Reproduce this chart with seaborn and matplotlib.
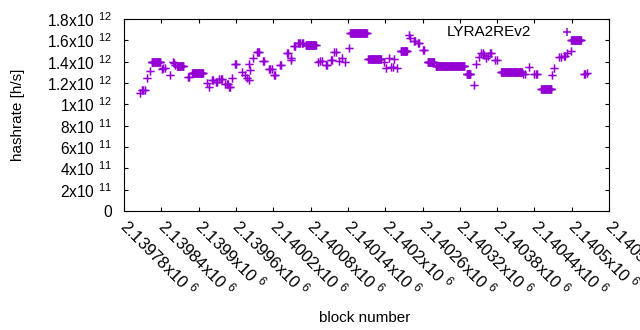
import matplotlib
matplotlib.use("Agg")
import matplotlib.pyplot as plt
import matplotlib.ticker as mticker
import seaborn as sns
import numpy as np
import pandas as pd

# block numbers and hashrate (units of 1e12 h/s)
blocks = [
    2139806, 2139809, 2139811, 2139813, 2139816, 2139822,
    2139824, 2139825, 2139826, 2139827, 2139828, 2139829, 2139830, 2139831,
    2139832, 2139833, 2139834, 2139835, 2139836, 2139837, 2139838,
    2139841, 2139843, 2139845, 2139854, 2139858, 2139860, 2139862,
    2139865, 2139866, 2139867, 2139868, 2139869, 2139870, 2139871, 2139872,
    2139873, 2139874, 2139875,
    2139882, 2139884,
    2139889, 2139890, 2139891, 2139892, 2139893, 2139894, 2139895, 2139896,
    2139897, 2139898, 2139899, 2139900, 2139901, 2139902, 2139903, 2139904,
    2139905, 2139906, 2139907,
    2139913, 2139917, 2139921, 2139923, 2139927, 2139929, 2139933, 2139935, 2139937,
    2139943, 2139945, 2139947, 2139949, 2139951, 2139954, 2139958, 2139960,
    2139970, 2139975, 2139978, 2139980, 2139981, 2139983, 2139988,
    2139993, 2139995, 2139997, 2140003, 2140005, 2140013, 2140015, 2140017,
    2140021, 2140023, 2140031, 2140033, 2140042, 2140044, 2140048, 2140049,
    2140053, 2140055, 2140059, 2140061, 2140063, 2140066, 2140068,
    2140072, 2140073, 2140074, 2140075, 2140076, 2140077, 2140078, 2140079,
    2140080, 2140081, 2140082, 2140083, 2140084, 2140085, 2140086, 2140087,
    2140088,
    2140091, 2140095, 2140098, 2140105, 2140107, 2140112, 2140114, 2140118, 2140120,
    2140125, 2140131, 2140136, 2140142,
    2140144, 2140145, 2140146, 2140147, 2140148, 2140149, 2140150, 2140151,
    2140152, 2140153, 2140154, 2140155, 2140156, 2140157, 2140158, 2140159,
    2140160, 2140161, 2140162, 2140163, 2140164, 2140165, 2140166, 2140167,
    2140168, 2140169, 2140170,
    2140173, 2140174, 2140175, 2140176, 2140177, 2140178, 2140179, 2140180,
    2140181, 2140182, 2140183, 2140184, 2140185, 2140186, 2140187, 2140188,
    2140189, 2140190, 2140191, 2140192, 2140193,
    2140198, 2140201, 2140206, 2140209, 2140212, 2140214, 2140219,
    2140225, 2140226, 2140227, 2140228, 2140229, 2140230, 2140231, 2140232,
    2140233, 2140234, 2140235,
    2140238, 2140239, 2140246, 2140248, 2140252, 2140254, 2140260, 2140262,
    2140268, 2140269, 2140270, 2140271, 2140272, 2140273, 2140274, 2140275,
    2140276, 2140277, 2140278,
    2140281, 2140282, 2140283, 2140284, 2140285, 2140286, 2140287, 2140288,
    2140289, 2140290, 2140291, 2140292, 2140293, 2140294, 2140295, 2140296,
    2140297, 2140298, 2140299, 2140300, 2140301, 2140302, 2140303, 2140304,
    2140305, 2140306, 2140307, 2140308, 2140309, 2140310, 2140311, 2140312,
    2140313, 2140314, 2140315, 2140316, 2140317, 2140318, 2140319, 2140320,
    2140321, 2140322, 2140323, 2140324, 2140325, 2140326, 2140327,
    2140331, 2140332, 2140333, 2140334, 2140335, 2140336, 2140337,
    2140343, 2140346, 2140350, 2140354, 2140357, 2140359, 2140362, 2140365,
    2140368, 2140370, 2140377, 2140379,
    2140386, 2140387, 2140388, 2140389, 2140390, 2140391, 2140392, 2140393,
    2140394, 2140395, 2140396, 2140397, 2140398, 2140399, 2140400, 2140401,
    2140402, 2140403, 2140404, 2140405, 2140406, 2140407, 2140408, 2140409,
    2140410, 2140411, 2140412, 2140413, 2140414, 2140415, 2140416, 2140417,
    2140418, 2140419, 2140420,
    2140422, 2140424, 2140431, 2140440, 2140442, 2140444,
    2140451, 2140452, 2140453, 2140454, 2140455, 2140456, 2140457, 2140458,
    2140459, 2140460, 2140461, 2140462, 2140463, 2140464, 2140465, 2140466,
    2140467,
    2140468, 2140471, 2140480, 2140482, 2140487, 2140489, 2140492, 2140498,
    2140499, 2140500, 2140501, 2140502, 2140503, 2140504, 2140505, 2140506,
    2140507, 2140508, 2140509, 2140510, 2140511, 2140512, 2140513, 2140514,
    2140515,
    2140520, 2140522, 2140524,
]
hashrate_e12 = [
    1.106, 1.134, 1.134, 1.134, 1.244, 1.312,
    1.394, 1.394, 1.394, 1.394, 1.394, 1.394, 1.394, 1.394,
    1.394, 1.394, 1.394, 1.394, 1.394, 1.394, 1.394,
    1.328, 1.343, 1.343, 1.275, 1.399, 1.384, 1.368,
    1.359, 1.359, 1.359, 1.359, 1.359, 1.359, 1.359, 1.359,
    1.359, 1.359, 1.359,
    1.253, 1.253,
    1.291, 1.291, 1.291, 1.291, 1.291, 1.291, 1.291, 1.291,
    1.291, 1.291, 1.291, 1.291, 1.291, 1.291, 1.291, 1.291,
    1.291, 1.291, 1.291,
    1.197, 1.165, 1.228, 1.228, 1.212, 1.212, 1.237, 1.237, 1.237,
    1.187, 1.187, 1.187, 1.165, 1.165, 1.249, 1.375, 1.375,
    1.300, 1.275, 1.244, 1.228, 1.375, 1.321, 1.431,
    1.487, 1.487, 1.487, 1.406, 1.406, 1.328, 1.328, 1.328,
    1.275, 1.275, 1.368, 1.368, 1.478, 1.478, 1.431, 1.415,
    1.546, 1.546, 1.572, 1.572, 1.577, 1.577, 1.577,
    1.556, 1.556, 1.556, 1.556, 1.556, 1.556, 1.556, 1.556,
    1.556, 1.556, 1.556, 1.556, 1.556, 1.556, 1.556, 1.556,
    1.556,
    1.399, 1.406, 1.406, 1.368, 1.368, 1.415, 1.415, 1.487, 1.487,
    1.406, 1.437, 1.399, 1.525,
    1.665, 1.665, 1.665, 1.665, 1.665, 1.665, 1.665, 1.665,
    1.665, 1.665, 1.665, 1.665, 1.665, 1.665, 1.665, 1.665,
    1.665, 1.665, 1.665, 1.665, 1.665, 1.665, 1.665, 1.665,
    1.665, 1.665, 1.665,
    1.422, 1.422, 1.422, 1.422, 1.422, 1.422, 1.422, 1.422,
    1.422, 1.422, 1.422, 1.422, 1.422, 1.422, 1.422, 1.422,
    1.422, 1.422, 1.422, 1.422, 1.422,
    1.399, 1.343, 1.437, 1.351, 1.351, 1.422, 1.337,
    1.500, 1.500, 1.500, 1.500, 1.500, 1.500, 1.500, 1.500,
    1.500, 1.500, 1.500,
    1.649, 1.619, 1.593, 1.593, 1.572, 1.572, 1.509, 1.509,
    1.394, 1.394, 1.394, 1.394, 1.394, 1.394, 1.394, 1.394,
    1.394, 1.394, 1.394,
    1.359, 1.359, 1.359, 1.359, 1.359, 1.359, 1.359, 1.359,
    1.359, 1.359, 1.359, 1.359, 1.359, 1.359, 1.359, 1.359,
    1.359, 1.359, 1.359, 1.359, 1.359, 1.359, 1.359, 1.359,
    1.359, 1.359, 1.359, 1.359, 1.359, 1.359, 1.359, 1.359,
    1.359, 1.359, 1.359, 1.359, 1.359, 1.359, 1.359, 1.359,
    1.359, 1.359, 1.359, 1.359, 1.359, 1.359, 1.359,
    1.281, 1.281, 1.281, 1.281, 1.281, 1.281, 1.281,
    1.181, 1.375, 1.446, 1.478, 1.478, 1.465, 1.437, 1.450,
    1.484, 1.484, 1.415, 1.415,
    1.300, 1.300, 1.300, 1.300, 1.300, 1.300, 1.300, 1.300,
    1.300, 1.300, 1.300, 1.300, 1.300, 1.300, 1.300, 1.300,
    1.300, 1.300, 1.300, 1.300, 1.300, 1.300, 1.300, 1.300,
    1.300, 1.300, 1.300, 1.300, 1.300, 1.300, 1.300, 1.300,
    1.300, 1.300, 1.300,
    1.281, 1.281, 1.347, 1.281, 1.281, 1.281,
    1.141, 1.141, 1.141, 1.141, 1.141, 1.141, 1.141, 1.141,
    1.141, 1.141, 1.141, 1.141, 1.141, 1.141, 1.141, 1.141,
    1.141,
    1.275, 1.337, 1.440, 1.440, 1.455, 1.455, 1.478, 1.502,
    1.600, 1.600, 1.600, 1.600, 1.600, 1.600, 1.600, 1.600,
    1.600, 1.600, 1.600, 1.600, 1.600, 1.600, 1.600, 1.600,
    1.600,
    1.284, 1.284, 1.290,
]
series_name = "LYRA2REv2"


def gp_label(v, pos=None):
    # gnuplot-ish "mantissa x10^exp" labels
    if v == 0:
        return "0"
    e = int(np.floor(np.log10(abs(v)) + 1e-9))
    m = v / 10.0 ** e
    return f"{m:.6g}x10 $^{{{e}}}$"


sns.set_style("ticks")
plt.rcParams.update({
    "font.family": ["Liberation Sans", "DejaVu Sans"],
    "mathtext.fontset": "custom",
    "mathtext.rm": "Liberation Sans",
    "mathtext.it": "Liberation Sans:italic",
    "mathtext.bf": "Liberation Sans:bold",
    "axes.edgecolor": "black",
    "axes.linewidth": 0.8,
    "text.color": "black",
    "axes.labelcolor": "black",
    "xtick.color": "black",
    "ytick.color": "black",
})

df = pd.DataFrame({"block": blocks, "hashrate": np.array(hashrate_e12) * 1e12})

fig = plt.figure(figsize=(6.4, 3.3), dpi=100)
ax = fig.add_axes([0.194, 0.3606, 0.7577, 0.5818])

sns.scatterplot(data=df, x="block", y="hashrate", marker="+", s=36,
                linewidth=1.1, color="#9400d3", label=series_name, ax=ax)
for coll in ax.collections:
    coll.set_snap(False)

ax.set_xlim(2139780, 2140560)
ax.set_ylim(0, 1.8e12)
ax.set_xticks(np.arange(2139780, 2140561, 60))
ax.yaxis.set_major_locator(mticker.MultipleLocator(2e11))
ax.xaxis.set_major_formatter(mticker.FuncFormatter(gp_label))
ax.yaxis.set_major_formatter(mticker.FuncFormatter(gp_label))

ax.tick_params(direction="in", length=3, width=0.8, top=True, right=True)
ax.tick_params(axis="y", pad=9, labelsize=11.2)
ax.tick_params(axis="x", pad=8, labelsize=12)
plt.setp(ax.get_xticklabels(), rotation=-45, ha="left", va="center",
         rotation_mode="anchor")

ax.set_xlabel("block number", fontsize=11)
ax.set_ylabel("hashrate [h/s]", fontsize=11)
ax.xaxis.set_label_coords(0.495, -0.52)
ax.yaxis.set_label_coords(-0.204, 0.5)

ax.legend(loc="upper right", bbox_to_anchor=(0.944, 0.969), frameon=False,
          markerfirst=False, handlelength=2, handletextpad=1.3,
          borderaxespad=0, borderpad=0, fontsize=11)

fig.savefig("out.png", dpi=100)
